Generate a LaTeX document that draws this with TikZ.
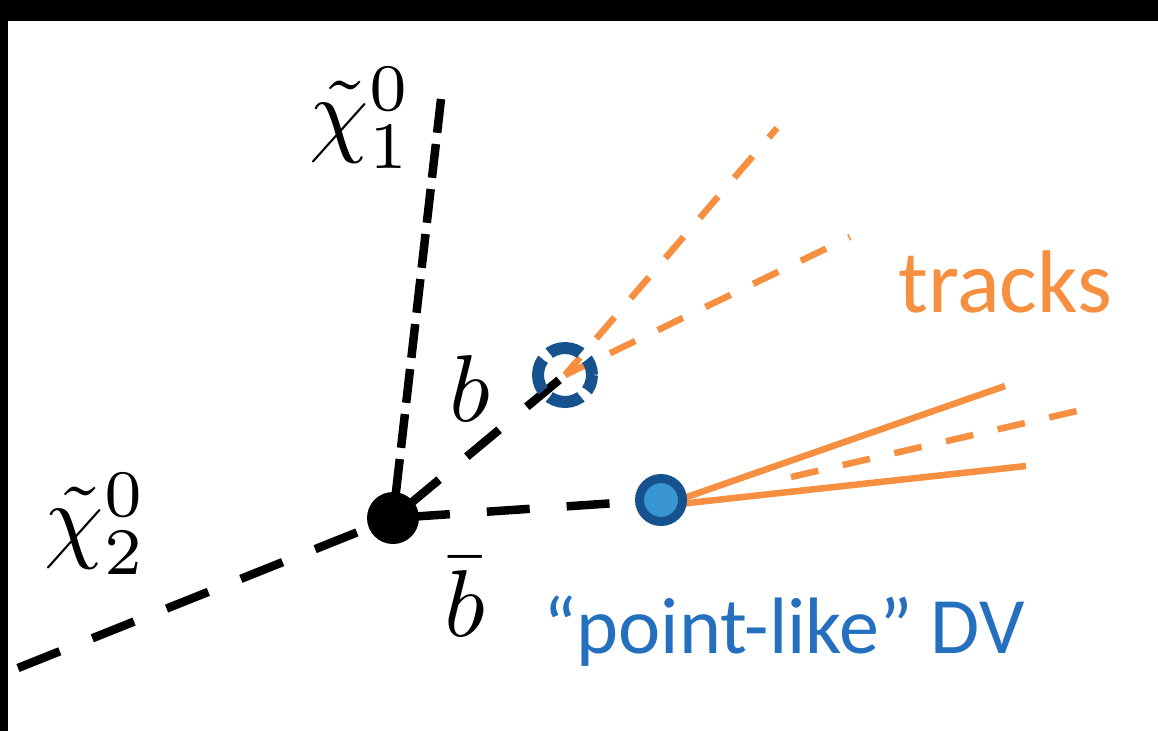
\documentclass[tikz,border=0pt]{standalone}
\usepackage{fontspec}
\newfontfamily\carlito{Carlito}
\usetikzlibrary{backgrounds}
\definecolor{trkorange}{RGB}{247,143,64}
\definecolor{dvblue}{RGB}{36,112,190}
\definecolor{dvdark}{RGB}{22,82,142}
\definecolor{dvfill}{RGB}{58,150,210}

\begin{document}
\begin{tikzpicture}[x=1pt,y=-1pt,every node/.style={inner sep=0pt}]
  \tikzset{
    decay/.style={circle,fill=black,minimum size=52pt},
    dvpt/.style={circle,draw=dvdark,fill=dvfill,line width=9pt,minimum size=43pt},
    dvring/.style={circle,draw=dvdark,line width=12pt,minimum size=54pt,
      dash pattern=on 33.4pt off 9pt,dash phase=16.7pt},
    sline/.style={black,line width=8.5pt},
    trkline/.style={trkorange,line width=6.5pt},
    lbl/.style={scale=9.5},
    txt/.style={font=\carlito\fontsize{89}{100}\selectfont,anchor=base west}
  }
  \useasboundingbox (0,0) rectangle (1158,731);
  \node[decay] (v) at (393,518) {};
  \node[dvring] (sv) at (565,375) {};
  \node[dvpt] (dv) at (661,500) {};
  \coordinate (chione) at (441,99);
  \coordinate (chitwo) at (18,668);
  \coordinate (fan) at (661,506);
  \coordinate (tkstart) at (791,477);
  \coordinate (ta) at (777,128);
  \coordinate (tb) at (850,237);
  \coordinate (tc) at (1005,386);
  \coordinate (td) at (1026,466);
  \coordinate (te) at (1077,411);
  \begin{scope}[on background layer]
    \fill[black] (0,0) rectangle (1158,731);
    \fill[white] (8,21) rectangle (1158,731);
    \draw[sline,dash pattern=on 34pt off 11.3pt] (chione) -- (v.center);
    \draw[sline,dash pattern=on 45pt off 35pt] (chitwo) -- (v.center);
    \draw[sline,dash pattern=on 42pt off 36pt,dash phase=60pt] (v.center) -- (sv.center);
    \draw[sline,dash pattern=on 43pt off 37pt,dash phase=66pt] (v.center) -- (dv);
    \draw[trkline,dash pattern=on 28pt off 25pt,dash phase=5pt] (sv.center) -- (ta);
    \draw[trkline,dash pattern=on 28pt off 25pt,dash phase=3pt] (sv.center) -- (tb);
    \draw[trkline] (fan) -- (tc);
    \draw[trkline] (fan) -- (td);
    \draw[trkline,dash pattern=on 28pt off 25pt] (tkstart) -- (te);
  \end{scope}
  \node[lbl] (lone) at (361,118) {$\tilde{\chi}_1^0$};
  \node[lbl] (ltwo) at (96,524) {$\tilde{\chi}_2^0$};
  \node[lbl] (lb) at (470,389) {$b$};
  \node[lbl] (lbb) at (465,597) {$\bar{b}$};
  \node[txt,text=trkorange] (ltracks) at (898,312) {tracks};
  \node[txt,text=dvblue,font=\carlito\fontsize{80}{90}\selectfont] (ldv) at (543,653) {“point-like” DV};
\end{tikzpicture}
\end{document}
